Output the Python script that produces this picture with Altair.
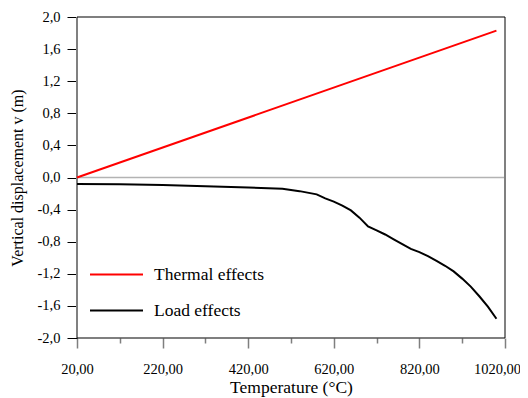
import altair as alt
import pandas as pd

# ---- data ----
series_names = ["Thermal effects", "Load effects"]

thermal_T = [20, 1000]
thermal_v = [0.0, 1.83]

load_T = [20, 120, 220, 320, 420, 500, 540, 580, 600, 620, 640, 660, 680, 700,
          720, 740, 760, 780, 800, 820, 840, 860, 880, 900, 920, 940, 960, 980, 1000]
load_v = [-0.08, -0.085, -0.095, -0.11, -0.125, -0.14, -0.17, -0.21, -0.26, -0.30,
          -0.35, -0.41, -0.50, -0.61, -0.66, -0.71, -0.77, -0.83, -0.89, -0.93,
          -0.98, -1.04, -1.10, -1.17, -1.26, -1.36, -1.48, -1.61, -1.76]

x_ticks = [20, 120, 220, 320, 420, 520, 620, 720, 820, 920, 1020]
y_ticks = [-2.0, -1.6, -1.2, -0.8, -0.4, 0.0, 0.4, 0.8, 1.2, 1.6, 2.0]

x_range = [20, 1020]
y_range = [-2.0, 2.0]

rows = [{"T": t, "v": v, "series": series_names[0], "o": i} for i, (t, v) in enumerate(zip(thermal_T, thermal_v))]
rows += [{"T": t, "v": v, "series": series_names[1], "o": i} for i, (t, v) in enumerate(zip(load_T, load_v))]
df = pd.DataFrame(rows)

FONT = "Liberation Serif"

xscale = alt.Scale(domain=x_range, nice=False, zero=False)
yscale = alt.Scale(domain=y_range, nice=False, zero=False)

x_axis = alt.Axis(
    values=x_ticks,
    labelExpr="(datum.value - 20) % 200 == 0 ? replace(format(datum.value, '.2f'), '.', ',') : ''",
    labelOverlap=False, labelFlush=False, labelBound=False,
    labelFontSize=14.5, labelColor="black", labelPadding=14,
    labelOffset={"condition": {"test": "datum.value == 1020", "value": -8}, "value": 0},
    title="Temperature (°C)", titleFontSize=17.5, titleFontWeight="normal",
    titleColor="black", titlePadding=3,
    domain=False,
    tickColor="#7f7f7f", tickWidth=1.5,
    tickSize={"condition": {"test": "(datum.value - 20) % 200 == 0", "value": 10}, "value": 5},
    gridOpacity=0,
)
y_axis = alt.Axis(
    values=y_ticks,
    labelExpr="replace(replace(format(datum.value, '.1f'), '.', ','), '\u2212', '-')",
    labelOverlap=False, labelFlush=False, labelBound=False,
    labelFontSize=14.5, labelColor="black", labelPadding=7,
    title="Vertical displacement v (m)", titleFontSize=16, titleFontWeight="normal",
    titleColor="black", titlePadding=12,
    domain=False,
    tickColor="black", tickWidth=1, tickSize=10,
    gridOpacity=0,
)

X = lambda f: alt.X(f, scale=xscale, axis=x_axis)
Y = lambda f: alt.Y(f, scale=yscale, axis=y_axis)

zero = alt.Chart(pd.DataFrame({"y": [0.0]})).mark_rule(color="#b3b3b3", strokeWidth=1.5).encode(
    y=Y("y:Q")
)
hborders = alt.Chart(pd.DataFrame({"y": y_range})).mark_rule(color="black", strokeWidth=1.2).encode(
    y=Y("y:Q")
)
vborders = alt.Chart(pd.DataFrame({"x": x_range})).mark_rule(color="#808080", strokeWidth=2).encode(
    x=X("x:Q")
)

lines = alt.Chart(df).mark_line(strokeWidth=2).encode(
    x=X("T:Q"),
    y=Y("v:Q"),
    color=alt.Color(
        "series:N",
        scale=alt.Scale(domain=series_names, range=["#ff0000", "#000000"]),
        legend=alt.Legend(
            title=None, orient="none", legendX=12, legendY=230,
            symbolType="stroke", symbolSize=2809, symbolStrokeWidth=2,
            labelFont=FONT, labelFontSize=17.5, labelColor="black", labelOffset=10,
            rowPadding=-36.5, padding=0,
        ),
    ),
    order="o:Q",
)

chart = alt.layer(zero, vborders, hborders, lines).properties(
    width=428, height=321,
    autosize=alt.AutoSizeParams(type="none"),
    padding={"left": 69, "top": 9, "right": 15, "bottom": 60},
).configure(font=FONT).configure_view(stroke=None)

chart.save("out.html", embed_options={"renderer": "svg", "actions": False})
